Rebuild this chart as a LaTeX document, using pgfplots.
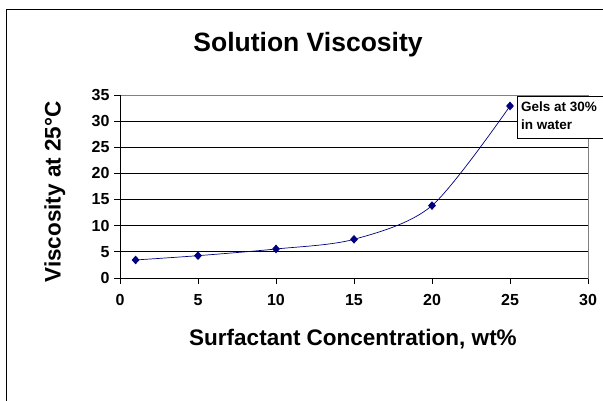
\documentclass[border=0pt]{standalone}
\usepackage{pgfplots}
\pgfplotsset{compat=1.18}
\usepackage{fontspec}
\setmainfont{Liberation Sans}
\definecolor{navy}{RGB}{0,0,128}
\begin{document}
\begin{tikzpicture}[x=1pt,y=1pt]
\useasboundingbox (0,0) rectangle (603,401);
\fill[white] (0,0) rectangle (603,401);
\clip (0,0) rectangle (603,401);
\draw[line width=1.6pt] (6.5,-5) -- (6.5,391.5) -- (610,391.5);
\begin{axis}[
  at={(120pt,123pt)}, anchor=south west,
  scale only axis, width=468pt, height=183pt,
  xmin=0, xmax=30, ymin=0, ymax=35,
  xtick={0,5,...,30}, ytick={0,5,...,35},
  tick align=outside, tick pos=left,
  major tick length=6pt,
  tick style={black, line width=0.8pt},
  ymajorgrids, grid style={black, line width=0.9pt},
  axis line style={gray, line width=0.8pt},
  ticklabel style={font=\fontsize{16}{19}\selectfont\bfseries},
  xticklabel style={yshift=-7pt},
  yticklabel style={xshift=-1pt},
  /pgf/number format/assume math mode=true,
  clip=false,
]
\addplot[navy, line width=0.7pt, smooth, mark=diamond*, mark size=3.8pt,
  mark options={fill=navy, draw=navy, xscale=1.2}]
  coordinates {(1,3.45) (5,4.27) (10,5.55) (15,7.4) (20,13.85) (25,32.9)};
\draw[black, line width=0.8pt] (rel axis cs:0,1) -- (rel axis cs:0,0) -- (rel axis cs:1,0);
\end{axis}
\node[anchor=base, font=\fontsize{26.5}{30}\selectfont\bfseries, inner sep=0] at (308,349.3) {Solution Viscosity};
\node[anchor=base, font=\fontsize{22.5}{26}\selectfont\bfseries, inner sep=0] at (353,55.3) {Surfactant Concentration, wt\%};
\node[anchor=base, rotate=90, font=\fontsize{22.5}{26}\selectfont\bfseries, inner sep=0] at (60.7,209) {Viscosity at 25°C};
\draw[fill=white, line width=0.8pt] (517,305) rectangle (620,263);
\node[anchor=base west, font=\fontsize{13.5}{16}\selectfont\bfseries, inner sep=0] at (521,289.3) {Gels at 30\%};
\node[anchor=base west, font=\fontsize{13.5}{16}\selectfont\bfseries, inner sep=0] at (521,271.7) {in water};
\end{tikzpicture}
\end{document}
